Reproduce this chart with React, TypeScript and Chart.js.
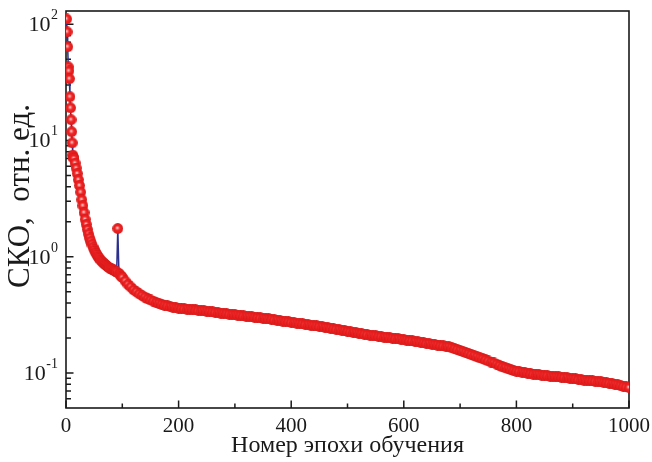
import React, { useEffect, useRef } from "react";
import { Chart, registerables } from "chart.js";

Chart.register(...registerables);

// Epochs 1..13 (individual points)
const earlyEpochs = [1, 2, 3, 4, 5, 6, 7, 8, 9, 10, 11, 12, 13];
const earlyValues = [111, 86, 64, 43, 39.7, 34, 23.8, 19.1, 15.1, 11.9, 9.55, 7.5, 7.2];

// Epochs 14..100, step 2
const midStart = 14;
const midStep = 2;
const midValues = [
  7.0, 6.4, 5.8, 5.2, 4.6, 4.1, 3.6, 3.1, 2.75, 2.4,
  2.1, 1.9, 1.72, 1.57, 1.45, 1.36, 1.28, 1.21, 1.15, 1.1,
  1.06, 1.02, 0.99, 0.96, 0.93, 0.91, 0.89, 0.87, 0.855, 0.84,
  0.825, 0.81, 0.8, 0.79, 0.78, 0.77, 0.76, 0.75, 0.74, 1.75,
  0.72, 0.7, 0.68, 0.665,
];

// Epochs 105..1000, step 5
const lateStart = 105;
const lateStep = 5;
const lateValues = [
  0.62, 0.58, 0.55, 0.52, 0.5, 0.48, 0.465, 0.45, 0.435, 0.425,
  0.415, 0.405, 0.398, 0.39, 0.383, 0.378, 0.373, 0.369, 0.365, 0.362,
  0.359, 0.357, 0.355, 0.353, 0.351, 0.349, 0.347, 0.345, 0.343, 0.34,
  0.338, 0.335, 0.333, 0.331, 0.328, 0.326, 0.324, 0.321, 0.319, 0.317,
  0.315, 0.313, 0.31, 0.308, 0.306, 0.304, 0.302, 0.3, 0.298, 0.296,
  0.294, 0.292, 0.29, 0.287, 0.285, 0.282, 0.28, 0.278, 0.276, 0.273,
  0.271, 0.269, 0.267, 0.265, 0.262, 0.26, 0.258, 0.256, 0.254, 0.252,
  0.25, 0.247, 0.245, 0.243, 0.24, 0.238, 0.236, 0.233, 0.231, 0.228,
  0.226, 0.224, 0.222, 0.22, 0.218, 0.216, 0.214, 0.212, 0.21, 0.209,
  0.207, 0.206, 0.204, 0.203, 0.201, 0.2, 0.198, 0.197, 0.195, 0.193,
  0.192, 0.19, 0.189, 0.187, 0.185, 0.184, 0.182, 0.18, 0.179, 0.177,
  0.176, 0.174, 0.172, 0.171, 0.169, 0.168, 0.165, 0.162, 0.159, 0.156,
  0.153, 0.15, 0.147, 0.144, 0.141, 0.138, 0.135, 0.133, 0.13, 0.127,
  0.124, 0.122, 0.119, 0.116, 0.113, 0.111, 0.109, 0.107, 0.105, 0.104,
  0.103, 0.102, 0.101, 0.1, 0.099, 0.098, 0.0975, 0.097, 0.096, 0.0955,
  0.095, 0.094, 0.0935, 0.093, 0.0925, 0.092, 0.0915, 0.091, 0.09, 0.0895,
  0.089, 0.088, 0.0875, 0.087, 0.0865, 0.086, 0.0855, 0.085, 0.0845, 0.084,
  0.083, 0.0825, 0.082, 0.081, 0.08, 0.079, 0.078, 0.077, 0.076, 0.075,
];

const xMajorTicks = [0, 200, 400, 600, 800, 1000];
const xMinorTicks = [100, 300, 500, 700, 900];
const yMajorTicks = [0.1, 1, 10, 100];
const yTickExponents = ["-1", "0", "1", "2"];
const yMinorMantissas = [2, 3, 4, 5, 6, 7, 8, 9];
const yDecades = [0.01, 0.1, 1, 10, 100];

const xTitle = "Номер эпохи обучения";
const yTitle = "СКО,  отн. ед.";

const FONT = '"Liberation Serif", "Times New Roman", serif';

function buildPoints() {
  const pts: { x: number; y: number }[] = [];
  earlyEpochs.forEach((e, i) => pts.push({ x: e, y: earlyValues[i] }));
  midValues.forEach((v, i) => pts.push({ x: midStart + i * midStep, y: v }));
  lateValues.forEach((v, i) => pts.push({ x: lateStart + i * lateStep, y: v }));
  return pts;
}

function makeBall(): HTMLCanvasElement {
  const c = document.createElement("canvas");
  c.width = 11;
  c.height = 11;
  const ctx = c.getContext("2d")!;
  const g = ctx.createRadialGradient(5.0, 4.8, 0.2, 5.5, 5.5, 5.5);
  g.addColorStop(0, "#ffe4e4");
  g.addColorStop(0.22, "#f66a6a");
  g.addColorStop(0.45, "#ee2424");
  g.addColorStop(0.85, "#e61c1c");
  g.addColorStop(1, "#c81616");
  ctx.fillStyle = g;
  ctx.beginPath();
  ctx.arc(5.5, 5.5, 5.4, 0, Math.PI * 2);
  ctx.fill();
  return c;
}

const framePlugin = {
  id: "framePlugin",
  beforeDatasetsDraw(chart: any) {
    const { ctx, chartArea } = chart;
    const xs = chart.scales.x;
    const ys = chart.scales.y;
    const { left, right, top, bottom } = chartArea;
    ctx.save();
    ctx.strokeStyle = "#1a1a1a";
    ctx.lineWidth = 1.6;
    ctx.strokeRect(left, top, right - left, bottom - top);
    ctx.lineWidth = 1.5;
    ctx.beginPath();
    xMajorTicks.forEach((v) => {
      const x = xs.getPixelForValue(v);
      ctx.moveTo(x, bottom);
      ctx.lineTo(x, bottom - 7.5);
    });
    xMinorTicks.forEach((v) => {
      const x = xs.getPixelForValue(v);
      ctx.moveTo(x, bottom);
      ctx.lineTo(x, bottom - 4.5);
    });
    yMajorTicks.forEach((v) => {
      const y = ys.getPixelForValue(v);
      ctx.moveTo(left, y);
      ctx.lineTo(left + 7.5, y);
    });
    yDecades.forEach((d) => {
      yMinorMantissas.forEach((m) => {
        const v = d * m;
        if (v <= ys.min || v >= ys.max) return;
        const y = ys.getPixelForValue(v);
        ctx.moveTo(left, y);
        ctx.lineTo(left + 5, y);
      });
    });
    ctx.stroke();
    ctx.restore();
  },
  afterDraw(chart: any) {
    const { ctx, chartArea } = chart;
    const xs = chart.scales.x;
    const ys = chart.scales.y;
    ctx.save();
    ctx.fillStyle = "#1a1a1a";
    ctx.font = `21px ${FONT}`;
    ctx.textAlign = "center";
    ctx.textBaseline = "alphabetic";
    xMajorTicks.forEach((v) => {
      ctx.fillText(String(v), xs.getPixelForValue(v), 432);
    });
    yMajorTicks.forEach((v, i) => {
      const y = ys.getPixelForValue(v);
      const exp = yTickExponents[i];
      ctx.font = `14px ${FONT}`;
      const we = ctx.measureText(exp).width;
      ctx.textAlign = "left";
      ctx.textBaseline = "alphabetic";
      ctx.fillText(exp, 58 - we, y - 5);
      ctx.font = `22px ${FONT}`;
      ctx.textAlign = "right";
      ctx.textBaseline = "middle";
      ctx.fillText("10", 58 - we - 0.5, y + 1);
    });
    ctx.font = `24px ${FONT}`;
    ctx.textAlign = "center";
    ctx.textBaseline = "alphabetic";
    ctx.fillText(xTitle, (chartArea.left + chartArea.right) / 2, 452);
    ctx.translate(29, 196);
    ctx.rotate(-Math.PI / 2);
    ctx.font = `31px ${FONT}`;
    ctx.textAlign = "center";
    ctx.fillText(yTitle, 0, 0);
    ctx.restore();
  },
};

export default function App() {
  const ref = useRef<HTMLCanvasElement | null>(null);
  useEffect(() => {
    if (!ref.current) return;
    const ball = makeBall();
    const chart = new Chart(ref.current, {
      type: "line",
      data: {
        datasets: [
          {
            data: buildPoints(),
            borderColor: "#2b2f8e",
            borderWidth: 1.5,
            pointStyle: ball as any,
            pointRadius: 5.5,
            tension: 0,
            fill: false,
            parsing: false,
          } as any,
        ],
      },
      options: {
        animation: false,
        responsive: false,
        devicePixelRatio: 1,
        events: [],
        layout: { padding: { left: 66, right: 23, top: 11, bottom: 54 } },
        plugins: { legend: { display: false }, tooltip: { enabled: false } },
        scales: {
          x: { type: "linear", min: 0, max: 1000, display: false },
          y: { type: "logarithmic", min: 0.05, max: 130, display: false },
        },
      },
      plugins: [framePlugin],
    });
    return () => chart.destroy();
  }, []);
  return (
    <div style={{ position: "fixed", left: 0, top: 0, width: 652, height: 462, background: "#fff" }}>
      <canvas ref={ref} width={652} height={462} style={{ display: "block", width: 652, height: 462 }} />
    </div>
  );
}
